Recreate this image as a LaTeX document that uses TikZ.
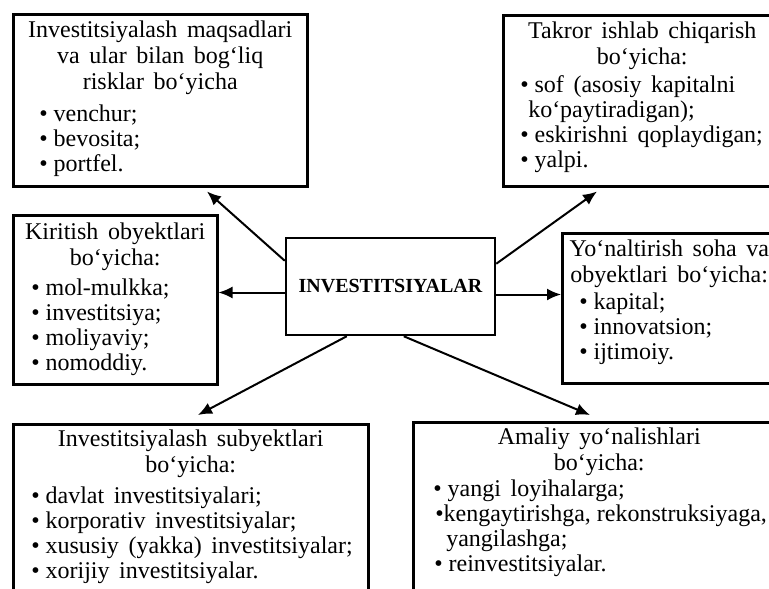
\documentclass[tikz,border=0pt]{standalone}
\usepackage{fontspec}
\setmainfont{Liberation Serif}
\usetikzlibrary{arrows.meta}

\newcommand{\bhead}[2]{\parskip=0pt\lineskiplimit=-20pt\parindent=0pt\spaceskip=0.4em plus 0.1em minus 0.05em\relax
    {\centering\baselineskip=26pt #1\par}\vspace{#2}}
\newcommand{\bline}[2]{\mbox{}\hspace*{#1}#2\par}
\newcommand{\bul}{\textbullet\hspace{6pt}}

\begin{document}
\begin{tikzpicture}[
                x=1pt,y=-1pt,
                box/.style={
                    draw,
                    line width=2.5pt,
                    anchor=north west,
                    inner sep=0pt,
                    font=\fontsize{24}{25}\selectfont
                },
                hub/.style={
                    draw,
                    line width=2.5pt,
                    minimum width=209pt,
                    minimum height=97pt,
                    font=\fontsize{20}{21}\selectfont\bfseries
                },
                arr/.style={
                    line width=2pt,
                    -{Latex[length=14pt,width=12pt]}
                }
            ]

                \clip (0,0) rectangle (769,589);

                \node[hub] (inv) at (390.5,286.5) {INVESTITSIYALAR};

                \node[box, text width=294pt, text height=23pt, text depth=149pt] (maqsad) at (12,13)
                    {\bhead{Investitsiyalash maqsadlari\\ va ular bilan bog‘liq\\ risklar bo‘yicha}{7pt}%
                     \bline{26pt}{\bul venchur;}\bline{26pt}{\bul bevosita;}\bline{26pt}{\bul portfel.}};

                \node[box, text width=278pt, text height=23pt, text depth=148pt] (takror) at (502,14)
                    {\bhead{Takror ishlab chiqarish\\ bo‘yicha:}{3pt}%
                     \bline{17pt}{\bul sof (asosiy kapitalni}\bline{25pt}{ko‘paytiradigan);}%
                     \bline{17pt}{\bul eskirishni qoplaydigan;}\bline{17pt}{\bul yalpi.}};

                \node[box, text width=204pt, text height=24pt, text depth=145pt] (kiritish) at (12,214)
                    {\bhead{Kiritish obyektlari\\ bo‘yicha:}{5pt}%
                     \bline{18pt}{\bul mol-mulkka;}\bline{18pt}{\bul investitsiya;}%
                     \bline{18pt}{\bul moliyaviy;}\bline{18pt}{\bul nomoddiy.}};

                \node[box, text width=214pt, text height=23pt, text depth=127pt] (yonaltir) at (561,232)
                    {\bhead{Yo‘naltirish soha va\\ obyektlari bo‘yicha:}{2pt}%
                     \bline{17pt}{\bul kapital;}\bline{17pt}{\bul innovatsion;}\bline{17pt}{\bul ijtimoiy.}};

                \node[box, text width=355pt, text height=22pt, text depth=200pt] (subyekt) at (12,423)
                    {\bhead{Investitsiyalash subyektlari\\ bo‘yicha:}{6pt}%
                     \bline{18pt}{\bul davlat investitsiyalari;}\bline{18pt}{\bul korporativ investitsiyalar;}%
                     \bline{18pt}{\bul xususiy (yakka) investitsiyalar;}\bline{18pt}{\bul xorijiy investitsiyalar.}};

                \node[box, text width=372pt, text height=22pt, text depth=200pt] (amaliy) at (412,421)
                    {\bhead{Amaliy yo‘nalishlari\\ bo‘yicha:}{1pt}%
                     \bline{20pt}{\bul yangi loyihalarga;}%
                     \bline{22pt}{{\spaceskip=0pt\textbullet kengaytirishga, rekonstruksiyaga,}}%
                     \bline{33pt}{yangilashga;}\bline{21pt}{\bul reinvestitsiyalar.}};

                \coordinate (l) at ([shift={(0,6)}]inv.west);
                \coordinate (r) at ([shift={(0,8)}]inv.east);

                \draw[arr] ([shift={(0,24)}]inv.north west) -- ([shift={(195,4)}]maqsad.south west);
                \draw[arr] ([shift={(0,27)}]inv.north east) -- ([shift={(95,4)}]takror.south west);
                \draw[arr] (l) -- (l -| kiritish.east);
                \draw[arr] (r) -- (r -| yonaltir.west);
                \draw[arr] ([shift={(62,0)}]inv.south west) -- ([shift={(186,-8)}]subyekt.north west);
                \draw[arr] ([shift={(119,0)}]inv.south west) -- ([shift={(178,-6)}]amaliy.north west);

            \end{tikzpicture}
\end{document}
